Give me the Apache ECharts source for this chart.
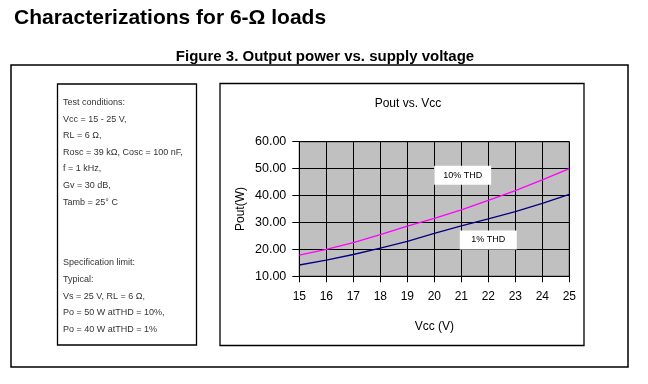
<!DOCTYPE html>
<html>
<head>
<meta charset="utf-8">
<script src="https://cdn.jsdelivr.net/npm/echarts@6/dist/echarts.min.js"></script>
<style>
html,body{margin:0;padding:0;background:#fff;}
#c{width:648px;height:384px;}
</style>
</head>
<body>
<div id="c"></div>
<script>
// ---- data ----
var vcc = [15, 16, 17, 18, 19, 20, 21, 22, 23, 24, 25];
var thd10 = [17.9, 20.0, 22.5, 25.5, 28.6, 31.5, 34.7, 38.2, 41.8, 45.8, 50.0];
var thd1 = [14.2, 16.0, 18.1, 20.5, 23.0, 25.9, 28.7, 31.3, 34.0, 37.1, 40.4];
var yTicks = [10, 20, 30, 40, 50, 60];
var xTicks = [15, 16, 17, 18, 19, 20, 21, 22, 23, 24, 25];
var label10 = { text: '10% THD', at: [21.05, 47.5] };
var label1 = { text: '1% THD', at: [22.0, 23.5] };
var conditionLines = ['Test conditions:', 'Vcc = 15 - 25 V,', 'RL = 6 \u03A9,',
  'Rosc = 39 k\u03A9, Cosc = 100 nF,', 'f = 1 kHz,', 'Gv = 30 dB,', 'Tamb = 25\u00B0 C'];
var specLines = ['Specification limit:', 'Typical:', 'Vs = 25 V, RL = 6 \u03A9,',
  'Po = 50 W atTHD = 10%,', 'Po = 40 W atTHD = 1%'];

var FONT = '"Liberation Sans", Arial, sans-serif';
var chart = echarts.init(document.getElementById('c'));

function pairs(xs, ys) { return xs.map(function (x, i) { return [x, ys[i]]; }); }

var graphics = [
  { type: 'rect', shape: { x: 11, y: 65, width: 617, height: 302 }, style: { fill: 'none', stroke: '#000', lineWidth: 1.5 }, z: 0 },
  { type: 'rect', shape: { x: 57.5, y: 84, width: 139, height: 261 }, style: { fill: 'none', stroke: '#000', lineWidth: 1.3 }, z: 0 },
  { type: 'rect', shape: { x: 220, y: 83.5, width: 364, height: 262 }, style: { fill: 'none', stroke: '#000', lineWidth: 1.3 }, z: 0 }
];
conditionLines.forEach(function (t, i) {
  graphics.push({ type: 'text', style: { text: t, x: 63, y: 102.5 + i * 16.6, font: '9px ' + FONT, fill: '#333', textVerticalAlign: 'middle', verticalAlign: 'middle' } });
});
specLines.forEach(function (t, i) {
  graphics.push({ type: 'text', style: { text: t, x: 63, y: 263 + i * 16.6, font: '9px ' + FONT, fill: '#333', textVerticalAlign: 'middle', verticalAlign: 'middle' } });
});

function mp(lbl) {
  return {
    symbol: 'rect', symbolSize: [57, 19], silent: true,
    itemStyle: { color: '#fff' },
    label: { show: true, position: 'inside', formatter: lbl.text, color: '#000', fontSize: 9, fontFamily: FONT },
    data: [{ coord: lbl.at }]
  };
}

chart.setOption({
  animation: false,
  backgroundColor: '#fff',
  title: [
    { text: 'Characterizations for 6-\u03A9 loads', left: 9, top: 3, textStyle: { fontFamily: FONT, fontSize: 21, fontWeight: 'bold', color: '#000' } },
    { text: 'Figure 3. Output power vs. supply voltage', left: 320, textAlign: 'center', top: 44, textStyle: { fontFamily: FONT, fontSize: 15, fontWeight: 'bold', color: '#000' } },
    { text: 'Pout vs. Vcc', left: 403, textAlign: 'center', top: 93, textStyle: { fontFamily: FONT, fontSize: 12, fontWeight: 'normal', color: '#000' } }
  ],
  graphic: graphics,
  grid: { left: 299.3, right: 648 - 569.3, top: 141.7, bottom: 384 - 276.3, show: true, backgroundColor: '#C0C0C0', borderColor: '#000', borderWidth: 1 },
  xAxis: {
    type: 'value', min: xTicks[0], max: xTicks[xTicks.length - 1], interval: 1,
    name: 'Vcc (V)', nameLocation: 'middle', nameGap: 44,
    nameTextStyle: { fontFamily: FONT, fontSize: 12, color: '#000' },
    axisLine: { lineStyle: { color: '#000', width: 1 } },
    axisTick: { show: true, length: 6, lineStyle: { color: '#000' } },
    axisLabel: { margin: 14, fontFamily: FONT, fontSize: 12, color: '#000' },
    splitLine: { show: true, lineStyle: { color: '#000', width: 1 } }
  },
  yAxis: {
    type: 'value', min: yTicks[0], max: yTicks[yTicks.length - 1], interval: 10,
    name: 'Pout(W)', nameLocation: 'middle', nameGap: 53,
    nameTextStyle: { fontFamily: FONT, fontSize: 12, color: '#000' },
    axisLine: { show: true, lineStyle: { color: '#000', width: 1 } },
    axisTick: { show: true, length: 7, lineStyle: { color: '#000' } },
    axisLabel: { margin: 13, fontFamily: FONT, fontSize: 12.5, color: '#000', formatter: function (v) { return v.toFixed(2); } },
    splitLine: { show: true, lineStyle: { color: '#000', width: 1 } }
  },
  series: [
    { type: 'line', name: '10% THD', data: pairs(vcc, thd10), showSymbol: false, symbol: 'none',
      lineStyle: { color: '#FF00FF', width: 1.3 }, itemStyle: { color: '#FF00FF' }, z: 3, markPoint: mp(label10) },
    { type: 'line', name: '1% THD', data: pairs(vcc, thd1), showSymbol: false, symbol: 'none',
      lineStyle: { color: '#000080', width: 1.3 }, itemStyle: { color: '#000080' }, z: 3, markPoint: mp(label1) }
  ]
});
</script>
</body>
</html>
